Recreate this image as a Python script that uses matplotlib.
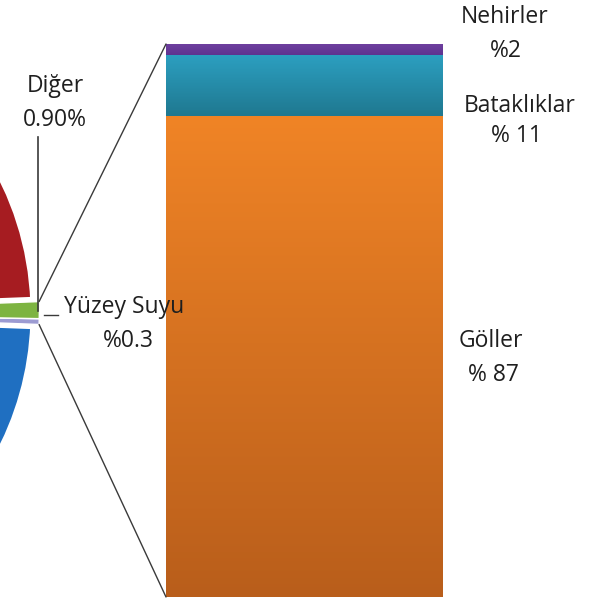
import numpy as np
import matplotlib
matplotlib.use('Agg')
import matplotlib.pyplot as plt
from matplotlib.colors import LinearSegmentedColormap
from matplotlib.patches import ConnectionPatch

plt.rcParams['font.family'] = ['Open Sans', 'DejaVu Sans']

# ---------------- data ----------------
pie_labels = ['Yüzey Suyu', 'Diğer', 'Buzullar', 'Yeraltı Suyu']
pie_values = [0.3, 0.9, 68.7, 30.1]
pie_colors = ['#9c9bd2', '#7db441', '#a61c21', '#1f6fc1']

bar_labels = ['Göller', 'Bataklıklar', 'Nehirler']
bar_values = [87, 11, 2]
bar_pct = ['% 87', '% 11', '%2']
diger_text = ['Diğer', '0.90%']
yuzey_text = ['Yüzey Suyu', '%0.3']

# gradient colours (top, bottom) per bar segment
bar_grad = [('#f08426', '#b95e1b'), ('#2c9fc0', '#1f7890'), ('#7040a0', '#5e3390')]

W, H = 595, 608
fig = plt.figure(figsize=(W / 100, H / 100), dpi=100)

# ---------------- pie (mostly off-canvas) ----------------
ax = fig.add_axes([0, 0, 1, 1])
R = 302
cx, cy = -266.7, H - 313
start = -(pie_values[0] + pie_values[1]) / 2 * 3.6
expl = [4, 4, 0, 0]
wedges, _ = ax.pie(pie_values, colors=pie_colors, startangle=start,
                   counterclock=True, center=(cx, cy), radius=R,
                   explode=expl,
                   wedgeprops=dict(edgecolor='white', linewidth=1.2))
# wide white borders on the two big slices, small slices on top
for w, lw, z in zip(wedges, [1.0, 1.0, 7.0, 7.0], [3, 3, 1, 1]):
    w.set_linewidth(lw)
    w.set_zorder(z)
ax.set_xlim(0, W)
ax.set_ylim(0, H)
ax.set_aspect('equal')
ax.axis('off')

# ---------------- bar ----------------
bx0, bx1, by0, by1 = 166, 443, 44, 597
bax = fig.add_axes([bx0 / W, (H - by1) / H, (bx1 - bx0) / W, (by1 - by0) / H])
bottoms = np.concatenate([[0], np.cumsum(bar_values)[:-1]])
bars = bax.bar([0] * len(bar_values), bar_values, bottom=bottoms, width=1.0,
               color=[g[0] for g in bar_grad], edgecolor='none')
bax.set_xlim(-0.5, 0.5)
bax.set_ylim(0, sum(bar_values))
bax.axis('off')

for patch, (ctop, cbot) in zip(bars.patches, bar_grad):
    x0, y0 = patch.get_x(), patch.get_y()
    w, h = patch.get_width(), patch.get_height()
    cmap = LinearSegmentedColormap.from_list('g', [cbot, ctop])
    grad = np.linspace(0, 1, 256).reshape(-1, 1)
    im = bax.imshow(grad, cmap=cmap, extent=[x0, x0 + w, y0, y0 + h],
                    origin='lower', aspect='auto', zorder=3)
    im.set_clip_path(patch)
bax.set_xlim(-0.5, 0.5)
bax.set_ylim(0, sum(bar_values))

# ---------------- connectors ----------------
wg = wedges[1]   # Diğer (green)
wl = wedges[0]   # Yüzey Suyu (lavender)
gx, gy = wg.center
t2 = np.deg2rad(wg.theta2)
top_pt = (gx + wg.r * np.cos(t2), gy + wg.r * np.sin(t2))
lx, ly = wl.center
t1 = np.deg2rad(wl.theta1)
bot_pt = (lx + wl.r * np.cos(t1), ly + wl.r * np.sin(t1))

for pA, pB in [(top_pt, (-0.5, sum(bar_values))), (bot_pt, (-0.5, 0))]:
    con = ConnectionPatch(xyA=pA, coordsA=ax.transData, xyB=pB,
                          coordsB=bax.transData, color='#3a3a3a', lw=1.0,
                          zorder=5)
    fig.add_artist(con)

# ---------------- labels ----------------
tc = '#1f1f1f'
fs = 16.5


def ftext(x, y, s):
    fig.text(x / W, 1 - y / H, s, ha='center', va='center', fontsize=fs,
             color=tc, zorder=10)


# Diğer label with vertical leader
ftext(55, 86, diger_text[0])
ftext(55, 120, diger_text[1])
ax.plot([38, 38], [H - 137, H - 311], color='#3a3a3a', lw=1.2, zorder=6)

# Yüzey Suyu label with short leader
ftext(124, 307, yuzey_text[0])
ftext(128, 341, yuzey_text[1])
ax.plot([44, 58], [H - 315, H - 315], color='#3a3a3a', lw=1.0, zorder=6)

# bar segment labels
lab_pos = {'Nehirler': (505, 17, 506, 51),
           'Bataklıklar': (520, 106, 516, 136),
           'Göller': (491, 341, 493, 375)}
for name, pct in zip(bar_labels, bar_pct):
    x1, y1, x2, y2 = lab_pos[name]
    ftext(x1, y1, name)
    ftext(x2, y2, pct)

fig.savefig('out.png', dpi=100)
